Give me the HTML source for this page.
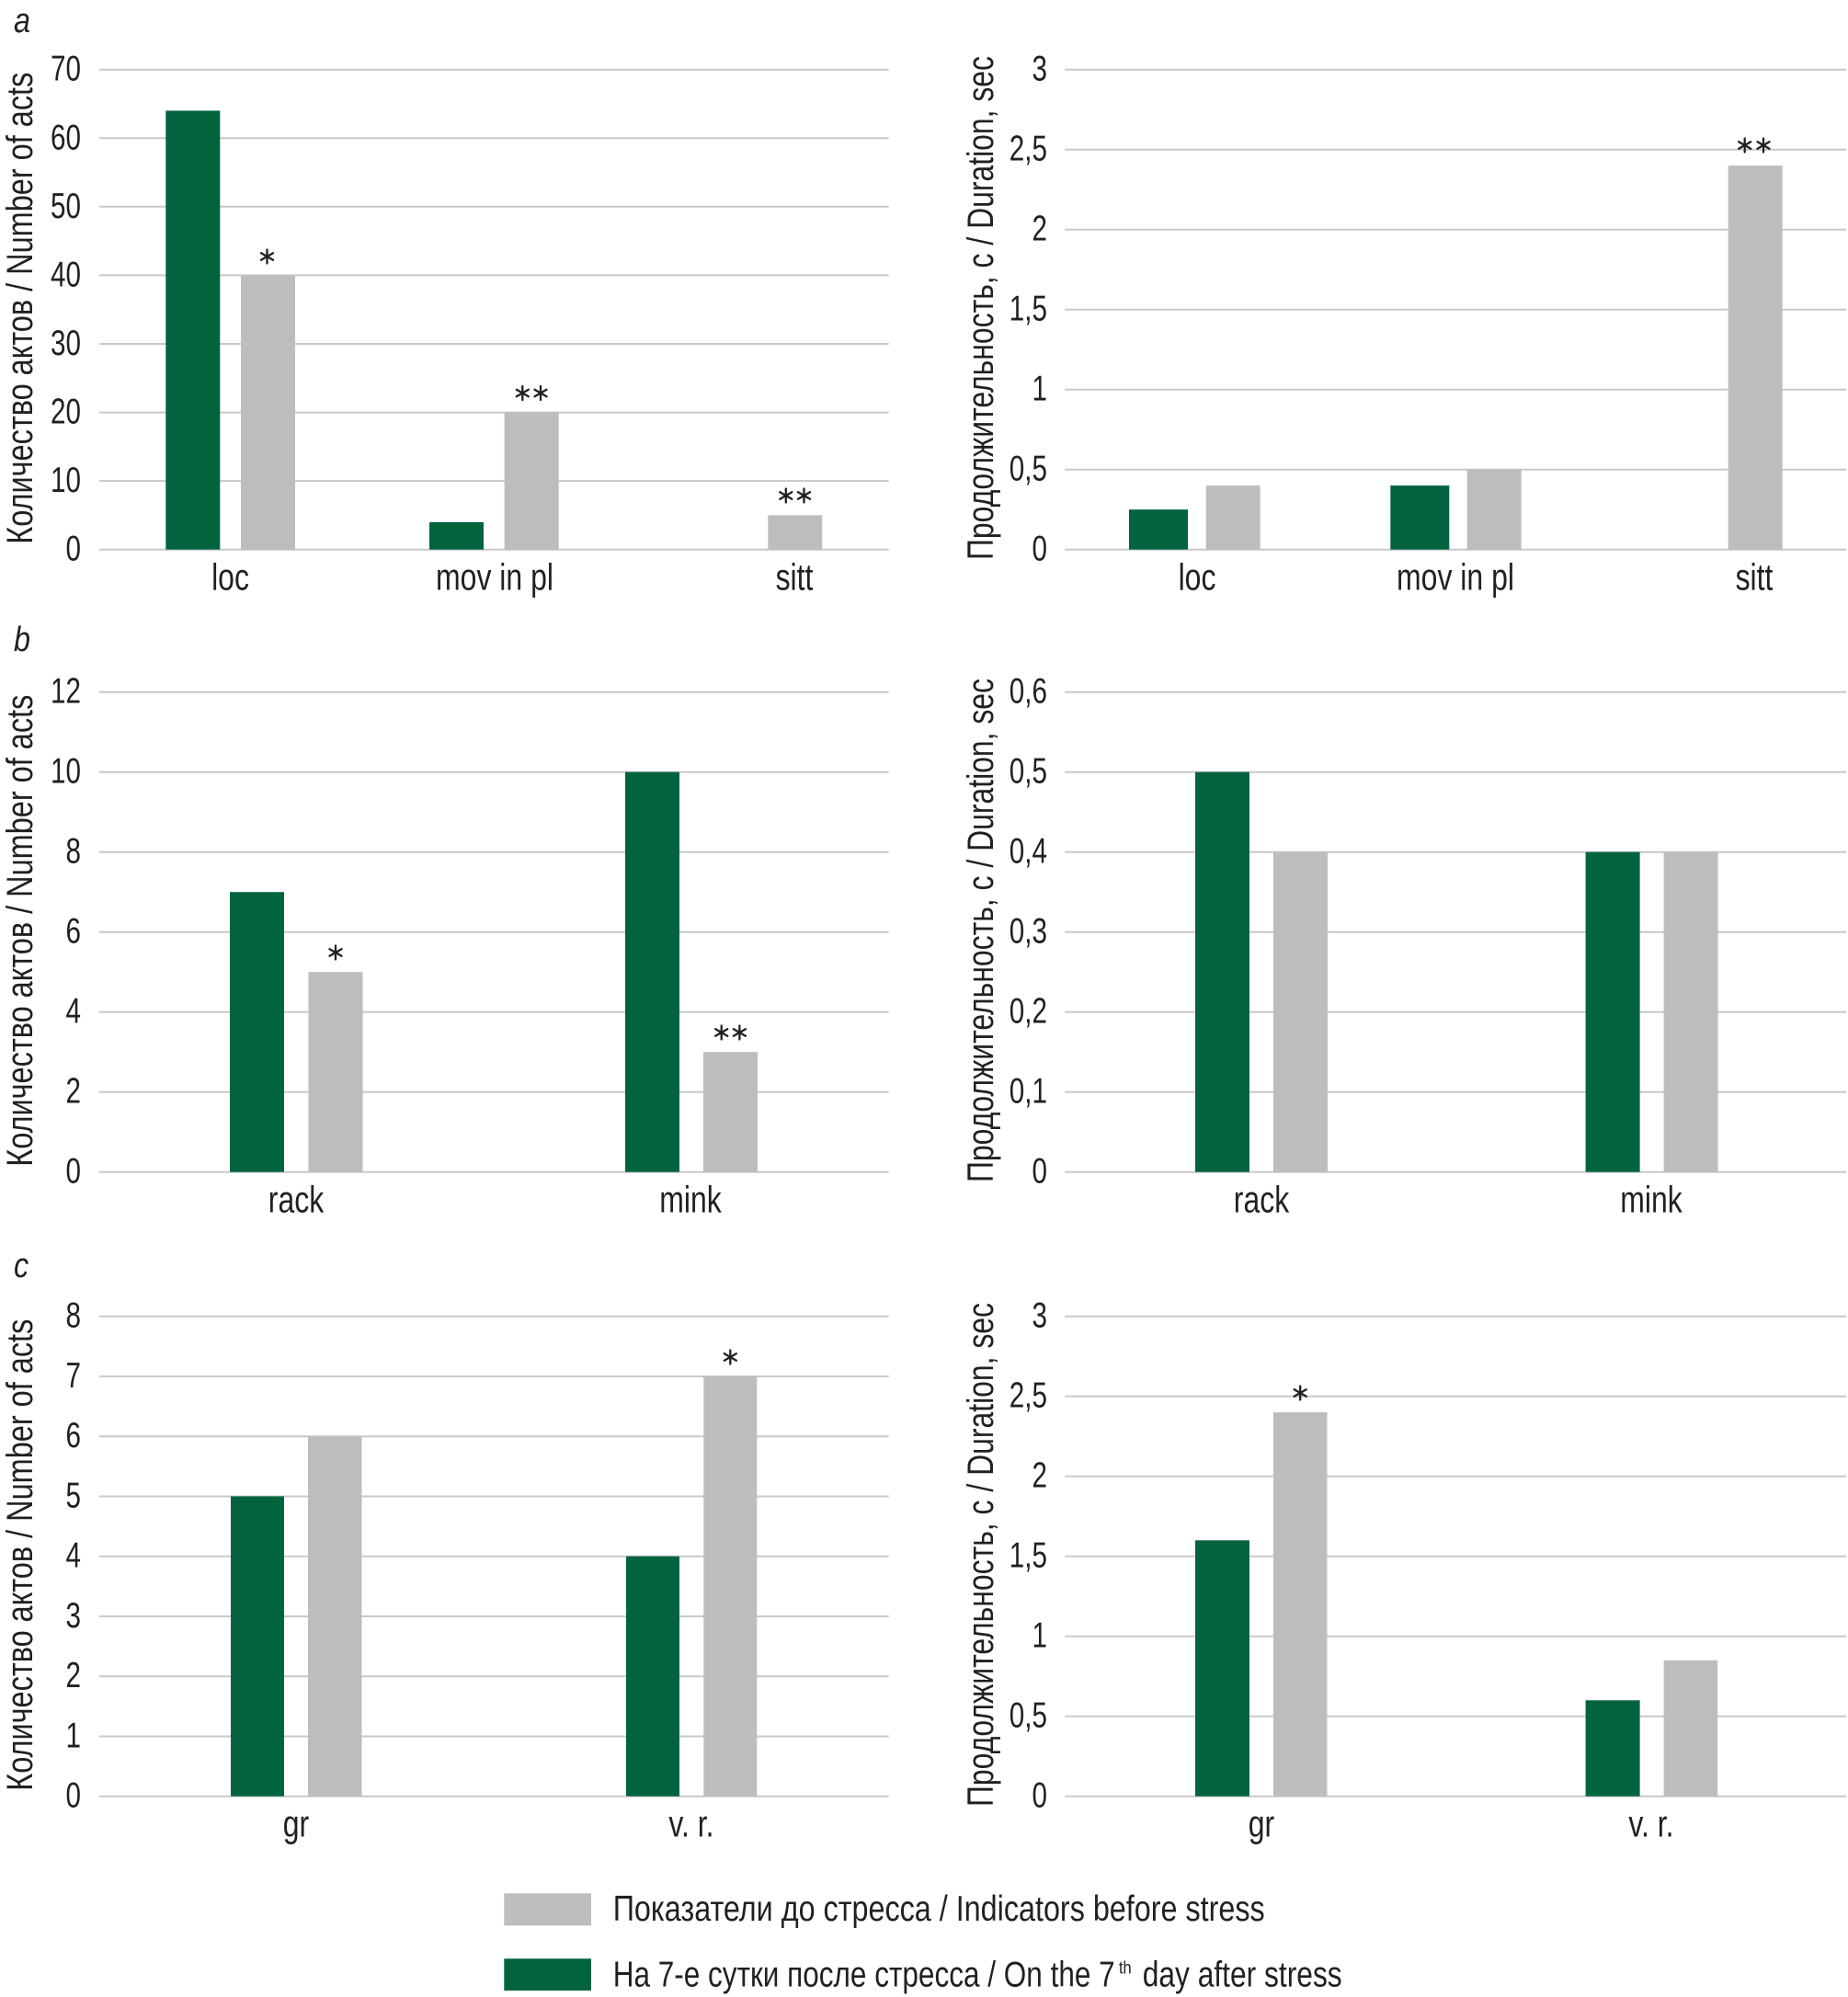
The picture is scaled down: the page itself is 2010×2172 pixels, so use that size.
<!DOCTYPE html>
<html><head><meta charset="utf-8"><style>
html,body{margin:0;padding:0;background:#fff;}
svg{display:block;}
text{font-family:"Liberation Sans","Noto Sans CJK SC",sans-serif;fill:#231f20;}
.tk{font-size:39px;}
.cl{font-size:41px;}
.ti{font-size:40px;}
.lg{font-size:39px;}
.pl{font-size:38px;font-style:italic;}
.g line{stroke:#c8c8c8;stroke-width:2;}
.gr{fill:#02643f;}
.gy{fill:#bcbdbf;}
.st line{stroke:#231f20;stroke-width:2.3;stroke-linecap:round;}
</style></head><body>
<svg width="2010" height="2172" viewBox="0 0 2010 2172" xmlns="http://www.w3.org/2000/svg">
<defs>
<g id="ast" class="st"><line x1="0" y1="-7.5" x2="0" y2="7.5"/><line x1="-6.5" y1="-3.75" x2="6.5" y2="3.75"/><line x1="-6.5" y1="3.75" x2="6.5" y2="-3.75"/></g>
</defs>
<rect width="2010" height="2172" fill="#fff"/>

<!-- panel letters -->
<text class="pl" transform="translate(15,35) scale(0.85,1)">a</text>
<text class="pl" transform="translate(15,708) scale(0.85,1)">b</text>
<text class="pl" transform="translate(15,1389) scale(0.85,1)">c</text>

<!-- ================= ROW A ================= -->
<g class="g">
<line x1="108" x2="966.7" y1="75.7" y2="75.7"/><line x1="108" x2="966.7" y1="150.3" y2="150.3"/><line x1="108" x2="966.7" y1="224.8" y2="224.8"/><line x1="108" x2="966.7" y1="299.4" y2="299.4"/><line x1="108" x2="966.7" y1="374" y2="374"/><line x1="108" x2="966.7" y1="448.6" y2="448.6"/><line x1="108" x2="966.7" y1="523.1" y2="523.1"/><line x1="108" x2="966.7" y1="597.7" y2="597.7"/>
<line x1="1158.3" x2="2008" y1="75.7" y2="75.7"/><line x1="1158.3" x2="2008" y1="162.7" y2="162.7"/><line x1="1158.3" x2="2008" y1="249.7" y2="249.7"/><line x1="1158.3" x2="2008" y1="336.7" y2="336.7"/><line x1="1158.3" x2="2008" y1="423.7" y2="423.7"/><line x1="1158.3" x2="2008" y1="510.7" y2="510.7"/><line x1="1158.3" x2="2008" y1="597.7" y2="597.7"/>
</g>
<!-- left a ticks -->
<g class="tk" text-anchor="end">
<text transform="translate(88,87.7) scale(0.76,1)">70</text>
<text transform="translate(88,162.3) scale(0.76,1)">60</text>
<text transform="translate(88,236.8) scale(0.76,1)">50</text>
<text transform="translate(88,311.4) scale(0.76,1)">40</text>
<text transform="translate(88,386) scale(0.76,1)">30</text>
<text transform="translate(88,460.6) scale(0.76,1)">20</text>
<text transform="translate(88,535.1) scale(0.76,1)">10</text>
<text transform="translate(88,609.7) scale(0.76,1)">0</text>
<text transform="translate(1139,87.7) scale(0.76,1)">3</text>
<text transform="translate(1139,174.7) scale(0.76,1)">2,5</text>
<text transform="translate(1139,261.7) scale(0.76,1)">2</text>
<text transform="translate(1139,348.7) scale(0.76,1)">1,5</text>
<text transform="translate(1139,435.7) scale(0.76,1)">1</text>
<text transform="translate(1139,522.7) scale(0.76,1)">0,5</text>
<text transform="translate(1139,609.7) scale(0.76,1)">0</text>
</g>
<!-- bars a left -->
<rect class="gr" x="180.3" y="120.4" width="59" height="477.3"/>
<rect class="gy" x="262" y="299.4" width="59" height="298.3"/>
<rect class="gr" x="467" y="567.9" width="59" height="29.8"/>
<rect class="gy" x="548.7" y="448.6" width="59" height="149.1"/>
<rect class="gy" x="835.3" y="560.4" width="59" height="37.3"/>
<!-- bars a right -->
<rect class="gr" x="1228" y="554.2" width="64" height="43.5"/>
<rect class="gy" x="1311.7" y="528.1" width="59" height="69.6"/>
<rect class="gr" x="1512.3" y="528.1" width="64" height="69.6"/>
<rect class="gy" x="1595.7" y="510.7" width="59" height="87"/>
<rect class="gy" x="1879.7" y="180.1" width="59" height="417.6"/>
<!-- asterisks a -->
<use href="#ast" x="290.5" y="279"/>
<use href="#ast" x="568.3" y="427.5"/><use href="#ast" x="588" y="427.5"/>
<use href="#ast" x="854.8" y="539"/><use href="#ast" x="874.5" y="539"/>
<use href="#ast" x="1897.7" y="158"/><use href="#ast" x="1918" y="158"/>
<!-- category labels a -->
<g class="cl" text-anchor="middle">
<text transform="translate(250.5,641.7) scale(0.78,1)">loc</text>
<text transform="translate(538,641.7) scale(0.78,1)">mov in pl</text>
<text transform="translate(864,641.7) scale(0.78,1)">sitt</text>
<text transform="translate(1302,641.7) scale(0.78,1)">loc</text>
<text transform="translate(1583,641.7) scale(0.78,1)">mov in pl</text>
<text transform="translate(1908,641.7) scale(0.78,1)">sitt</text>
</g>
<!-- axis titles a -->
<text class="ti" transform="translate(35,591.7) rotate(-90)" textLength="513" lengthAdjust="spacingAndGlyphs">Количество актов / Number of acts</text>
<text class="ti" transform="translate(1080,609) rotate(-90)" textLength="548" lengthAdjust="spacingAndGlyphs">Продолжительность, с / Duration, sec</text>

<!-- ================= ROW B ================= -->
<g class="g">
<line x1="108" x2="966.7" y1="752.7" y2="752.7"/><line x1="108" x2="966.7" y1="839.7" y2="839.7"/><line x1="108" x2="966.7" y1="926.7" y2="926.7"/><line x1="108" x2="966.7" y1="1013.7" y2="1013.7"/><line x1="108" x2="966.7" y1="1100.7" y2="1100.7"/><line x1="108" x2="966.7" y1="1187.7" y2="1187.7"/><line x1="108" x2="966.7" y1="1274.7" y2="1274.7"/>
<line x1="1158.3" x2="2008" y1="752.7" y2="752.7"/><line x1="1158.3" x2="2008" y1="839.7" y2="839.7"/><line x1="1158.3" x2="2008" y1="926.7" y2="926.7"/><line x1="1158.3" x2="2008" y1="1013.7" y2="1013.7"/><line x1="1158.3" x2="2008" y1="1100.7" y2="1100.7"/><line x1="1158.3" x2="2008" y1="1187.7" y2="1187.7"/><line x1="1158.3" x2="2008" y1="1274.7" y2="1274.7"/>
</g>
<g class="tk" text-anchor="end">
<text transform="translate(88,764.7) scale(0.76,1)">12</text>
<text transform="translate(88,851.7) scale(0.76,1)">10</text>
<text transform="translate(88,938.7) scale(0.76,1)">8</text>
<text transform="translate(88,1025.7) scale(0.76,1)">6</text>
<text transform="translate(88,1112.7) scale(0.76,1)">4</text>
<text transform="translate(88,1199.7) scale(0.76,1)">2</text>
<text transform="translate(88,1286.7) scale(0.76,1)">0</text>
<text transform="translate(1139,764.7) scale(0.76,1)">0,6</text>
<text transform="translate(1139,851.7) scale(0.76,1)">0,5</text>
<text transform="translate(1139,938.7) scale(0.76,1)">0,4</text>
<text transform="translate(1139,1025.7) scale(0.76,1)">0,3</text>
<text transform="translate(1139,1112.7) scale(0.76,1)">0,2</text>
<text transform="translate(1139,1199.7) scale(0.76,1)">0,1</text>
<text transform="translate(1139,1286.7) scale(0.76,1)">0</text>
</g>
<rect class="gr" x="250" y="970.2" width="59" height="304.5"/>
<rect class="gy" x="335.5" y="1057.2" width="59" height="217.5"/>
<rect class="gr" x="680" y="839.7" width="59" height="435"/>
<rect class="gy" x="765" y="1144.2" width="59" height="130.5"/>
<rect class="gr" x="1300" y="839.7" width="59" height="435"/>
<rect class="gy" x="1385" y="926.7" width="59" height="348"/>
<rect class="gr" x="1724.6" y="926.7" width="59" height="348"/>
<rect class="gy" x="1809.6" y="926.7" width="59" height="348"/>
<use href="#ast" x="365" y="1036"/>
<use href="#ast" x="784.7" y="1123"/><use href="#ast" x="804.4" y="1123"/>
<g class="cl" text-anchor="middle">
<text transform="translate(322,1318.7) scale(0.78,1)">rack</text>
<text transform="translate(751,1318.7) scale(0.78,1)">mink</text>
<text transform="translate(1372,1318.7) scale(0.78,1)">rack</text>
<text transform="translate(1796,1318.7) scale(0.78,1)">mink</text>
</g>
<text class="ti" transform="translate(35,1268.7) rotate(-90)" textLength="513" lengthAdjust="spacingAndGlyphs">Количество актов / Number of acts</text>
<text class="ti" transform="translate(1080,1286) rotate(-90)" textLength="548" lengthAdjust="spacingAndGlyphs">Продолжительность, с / Duration, sec</text>

<!-- ================= ROW C ================= -->
<g class="g">
<line x1="108" x2="966.7" y1="1431.7" y2="1431.7"/><line x1="108" x2="966.7" y1="1496.95" y2="1496.95"/><line x1="108" x2="966.7" y1="1562.2" y2="1562.2"/><line x1="108" x2="966.7" y1="1627.45" y2="1627.45"/><line x1="108" x2="966.7" y1="1692.7" y2="1692.7"/><line x1="108" x2="966.7" y1="1757.95" y2="1757.95"/><line x1="108" x2="966.7" y1="1823.2" y2="1823.2"/><line x1="108" x2="966.7" y1="1888.45" y2="1888.45"/><line x1="108" x2="966.7" y1="1953.7" y2="1953.7"/>
<line x1="1158.3" x2="2008" y1="1431.7" y2="1431.7"/><line x1="1158.3" x2="2008" y1="1518.7" y2="1518.7"/><line x1="1158.3" x2="2008" y1="1605.7" y2="1605.7"/><line x1="1158.3" x2="2008" y1="1692.7" y2="1692.7"/><line x1="1158.3" x2="2008" y1="1779.7" y2="1779.7"/><line x1="1158.3" x2="2008" y1="1866.7" y2="1866.7"/><line x1="1158.3" x2="2008" y1="1953.7" y2="1953.7"/>
</g>
<g class="tk" text-anchor="end">
<text transform="translate(88,1443.7) scale(0.76,1)">8</text>
<text transform="translate(88,1508.95) scale(0.76,1)">7</text>
<text transform="translate(88,1574.2) scale(0.76,1)">6</text>
<text transform="translate(88,1639.45) scale(0.76,1)">5</text>
<text transform="translate(88,1704.7) scale(0.76,1)">4</text>
<text transform="translate(88,1769.95) scale(0.76,1)">3</text>
<text transform="translate(88,1835.2) scale(0.76,1)">2</text>
<text transform="translate(88,1900.45) scale(0.76,1)">1</text>
<text transform="translate(88,1965.7) scale(0.76,1)">0</text>
<text transform="translate(1139,1443.7) scale(0.76,1)">3</text>
<text transform="translate(1139,1530.7) scale(0.76,1)">2,5</text>
<text transform="translate(1139,1617.7) scale(0.76,1)">2</text>
<text transform="translate(1139,1704.7) scale(0.76,1)">1,5</text>
<text transform="translate(1139,1791.7) scale(0.76,1)">1</text>
<text transform="translate(1139,1878.7) scale(0.76,1)">0,5</text>
<text transform="translate(1139,1965.7) scale(0.76,1)">0</text>
</g>
<rect class="gr" x="251" y="1627.45" width="58" height="326.25"/>
<rect class="gy" x="335" y="1562.2" width="58.5" height="391.5"/>
<rect class="gr" x="681" y="1692.7" width="58" height="261"/>
<rect class="gy" x="765.3" y="1496.95" width="58" height="456.75"/>
<rect class="gr" x="1300" y="1675.3" width="59" height="278.4"/>
<rect class="gy" x="1385" y="1536.1" width="58.5" height="417.6"/>
<rect class="gr" x="1724.6" y="1849.3" width="59" height="104.4"/>
<rect class="gy" x="1809.6" y="1805.8" width="58.5" height="147.9"/>
<use href="#ast" x="794.3" y="1476"/>
<use href="#ast" x="1414.2" y="1515"/>
<g class="cl" text-anchor="middle">
<text transform="translate(322,1997.7) scale(0.78,1)">gr</text>
<text transform="translate(752,1997.7) scale(0.78,1)">v. r.</text>
<text transform="translate(1372,1997.7) scale(0.78,1)">gr</text>
<text transform="translate(1796,1997.7) scale(0.78,1)">v. r.</text>
</g>
<text class="ti" transform="translate(35,1947.7) rotate(-90)" textLength="513" lengthAdjust="spacingAndGlyphs">Количество актов / Number of acts</text>
<text class="ti" transform="translate(1080,1965) rotate(-90)" textLength="548" lengthAdjust="spacingAndGlyphs">Продолжительность, с / Duration, sec</text>

<!-- ================= LEGEND ================= -->
<rect class="gy" x="548.3" y="2059.3" width="94.7" height="35"/>
<rect class="gr" x="548.3" y="2130.3" width="94.7" height="34.7"/>
<text class="lg" x="666.7" y="2089" textLength="709" lengthAdjust="spacingAndGlyphs">Показатели до стресса / Indicators before stress</text>
<text class="lg" x="666.7" y="2160.5" textLength="546" lengthAdjust="spacingAndGlyphs">На 7-е сутки после стресса / On the 7</text>
<text x="1217" y="2146.5" style="font-size:19px" textLength="13.7" lengthAdjust="spacingAndGlyphs">th</text>
<text class="lg" x="1242.7" y="2160.5" textLength="217" lengthAdjust="spacingAndGlyphs">day after stress</text>
</svg>
</body></html>
